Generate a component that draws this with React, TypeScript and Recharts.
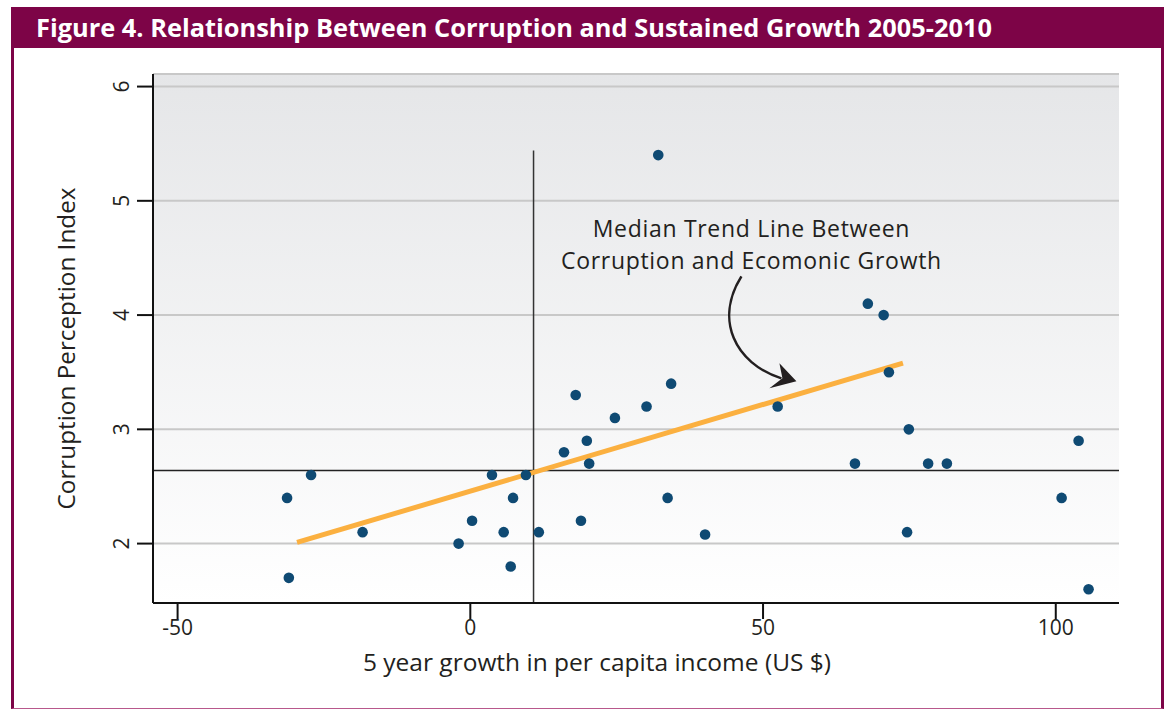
import React from 'react';
import { ScatterChart, Scatter, XAxis, YAxis, CartesianGrid, ReferenceLine } from 'recharts';

// 5 year growth in per capita income (US $) and CPI per country
const growth = [
  -31.3, -31.0, -27.2, -18.4, -2.0, 0.3, 3.7, 5.7, 6.9, 7.3, 9.5, 11.7, 16.0, 18.0, 18.9, 19.9, 20.3, 24.7,
  30.1, 32.1, 33.7, 34.3, 40.1, 52.5, 65.7, 67.9, 70.6, 71.5, 74.6, 74.9, 78.2, 81.4, 101.0, 103.9, 105.6,
];
const cpi = [
  2.4, 1.7, 2.6, 2.1, 2.0, 2.2, 2.6, 2.1, 1.8, 2.4, 2.6, 2.1, 2.8, 3.3, 2.2, 2.9, 2.7, 3.1,
  3.2, 5.4, 2.4, 3.4, 2.08, 3.2, 2.7, 4.1, 4.0, 3.5, 2.1, 3.0, 2.7, 2.7, 2.4, 2.9, 1.6,
];

const xTicks = [-50, 0, 50, 100];
const yTicks = [2, 3, 4, 5, 6];
const xDomain = [-54.2, 110.8];
const yDomain = [1.48, 6.11];

// median split lines
const medianGrowth = 10.8;
const medianCpi = 2.64;
const medianGrowthTop = 5.44;

// median trend line end points
const trendX = [-29.6, 73.9];
const trendY = [2.01, 3.58];

// annotation arrow tip
const arrowTip = [{ x: 55.7, y: 3.42 }];
const noteLines = ['Median Trend Line Between', 'Corruption and Ecomonic Growth'];

const points = growth.map((x, i) => ({ x, y: cpi[i] }));

const FONT = '"Open Sans", "Noto Sans", sans-serif';
const MAROON = '#7d0447';
const INK = '#231f20';

const YTick = ({ x, y, payload }: any) => (
  <text
    transform={`translate(${x - 6},${y}) rotate(-90)`}
    textAnchor="middle"
    fontSize={21}
    fontFamily={FONT}
    fill={INK}
  >
    {payload.value}
  </text>
);

const Dot = ({ cx, cy }: any) => <circle cx={cx} cy={cy} r={5.3} fill="#0f4a73" />;

const Note = ({ cx, cy }: any) => (
  <g>
    {noteLines.map((line, i) => (
      <text
        key={line}
        x={cx - 45}
        y={cy - 153 + i * 31.5}
        textAnchor="middle"
        dominantBaseline="central"
        fontSize={23}
        letterSpacing={0.7}
        fontFamily={FONT}
        fill={INK}
      >
        {line}
      </text>
    ))}
    <path
      d={`M${cx - 55},${cy - 105} C${cx - 82},${cy - 62} ${cx - 62},${cy - 18} ${cx - 15},${cy - 3}`}
      fill="none"
      stroke={INK}
      strokeWidth={2.5}
    />
    <path
      d={`M${cx},${cy} L${cx - 17},${cy - 18} L${cx - 14},${cy - 3} L${cx - 27},${cy + 7} Z`}
      fill={INK}
    />
  </g>
);

export default function App() {
  return (
    <div
      style={{
        position: 'absolute',
        left: 0,
        top: 0,
        width: 1169,
        height: 709,
        background: '#fff',
        fontFamily: FONT,
        overflow: 'hidden',
      }}
    >
      {/* frame */}
      <div
        style={{
          position: 'absolute',
          left: 11,
          top: 7,
          width: 1153,
          height: 702,
          boxSizing: 'border-box',
          borderLeft: `3px solid ${MAROON}`,
          borderRight: `3px solid ${MAROON}`,
          borderBottom: '1px solid #b8588c',
        }}
      />
      <div
        style={{
          position: 'absolute',
          left: 11,
          top: 7,
          width: 1153,
          height: 41,
          background: MAROON,
          color: '#fff',
          fontWeight: 700,
          fontSize: 25.4,
          lineHeight: '41px',
          paddingLeft: 25,
          boxSizing: 'border-box',
          whiteSpace: 'nowrap',
        }}
      >
        Figure 4. Relationship Between Corruption and Sustained Growth 2005-2010
      </div>

      <ScatterChart
        width={1169}
        height={709}
        margin={{ top: 74, right: 50, bottom: 31, left: 40 }}
        style={{ position: 'absolute', left: 0, top: 0 }}
      >
        <defs>
          <linearGradient id="plotBg" x1="0" y1="0" x2="0" y2="1">
            <stop offset="0" stopColor="#e5e6e8" />
            <stop offset="1" stopColor="#ffffff" />
          </linearGradient>
        </defs>
        <CartesianGrid vertical={false} fill="url(#plotBg)" stroke="#c8c8c8" strokeWidth={2} />
        <XAxis
          type="number"
          dataKey="x"
          domain={xDomain}
          ticks={xTicks}
          allowDataOverflow
          height={75}
          tickSize={16}
          tickMargin={1}
          axisLine={{ stroke: '#111', strokeWidth: 2 }}
          tickLine={{ stroke: '#111', strokeWidth: 2 }}
          tick={{ fontSize: 21, fontFamily: FONT, fill: INK }}
          label={{
            content: ({ viewBox }: any) => (
              <text
                x={viewBox.x + viewBox.width / 2 - 39}
                y={viewBox.y + 68}
                textAnchor="middle"
                fontSize={24.5}
                fontFamily={FONT}
                fill={INK}
              >
                5 year growth in per capita income (US $)
              </text>
            ),
          }}
        />
        <YAxis
          type="number"
          dataKey="y"
          domain={yDomain}
          ticks={yTicks}
          allowDataOverflow
          width={113}
          tickSize={16}
          tickMargin={2}
          axisLine={{ stroke: '#111', strokeWidth: 2 }}
          tickLine={{ stroke: '#111', strokeWidth: 2 }}
          tick={<YTick />}
          label={{
            content: ({ viewBox }: any) => (
              <text
                transform={`translate(${viewBox.x + 35},${viewBox.y + viewBox.height / 2 + 10}) rotate(-90)`}
                textAnchor="middle"
                fontSize={24.3}
                fontFamily={FONT}
                fill={INK}
              >
                Corruption Perception Index
              </text>
            ),
          }}
        />
        <ReferenceLine y={medianCpi} stroke="#222" strokeWidth={1.5} />
        <ReferenceLine
          segment={[
            { x: medianGrowth, y: yDomain[0] },
            { x: medianGrowth, y: medianGrowthTop },
          ]}
          stroke="#333"
          strokeWidth={1.5}
        />
        <Scatter data={points} shape={<Dot />} isAnimationActive={false} />
        <ReferenceLine
          segment={[
            { x: trendX[0], y: trendY[0] },
            { x: trendX[1], y: trendY[1] },
          ]}
          stroke="#fbb040"
          strokeWidth={5}
        />
        <Scatter data={arrowTip} shape={<Note />} isAnimationActive={false} />
      </ScatterChart>
    </div>
  );
}
